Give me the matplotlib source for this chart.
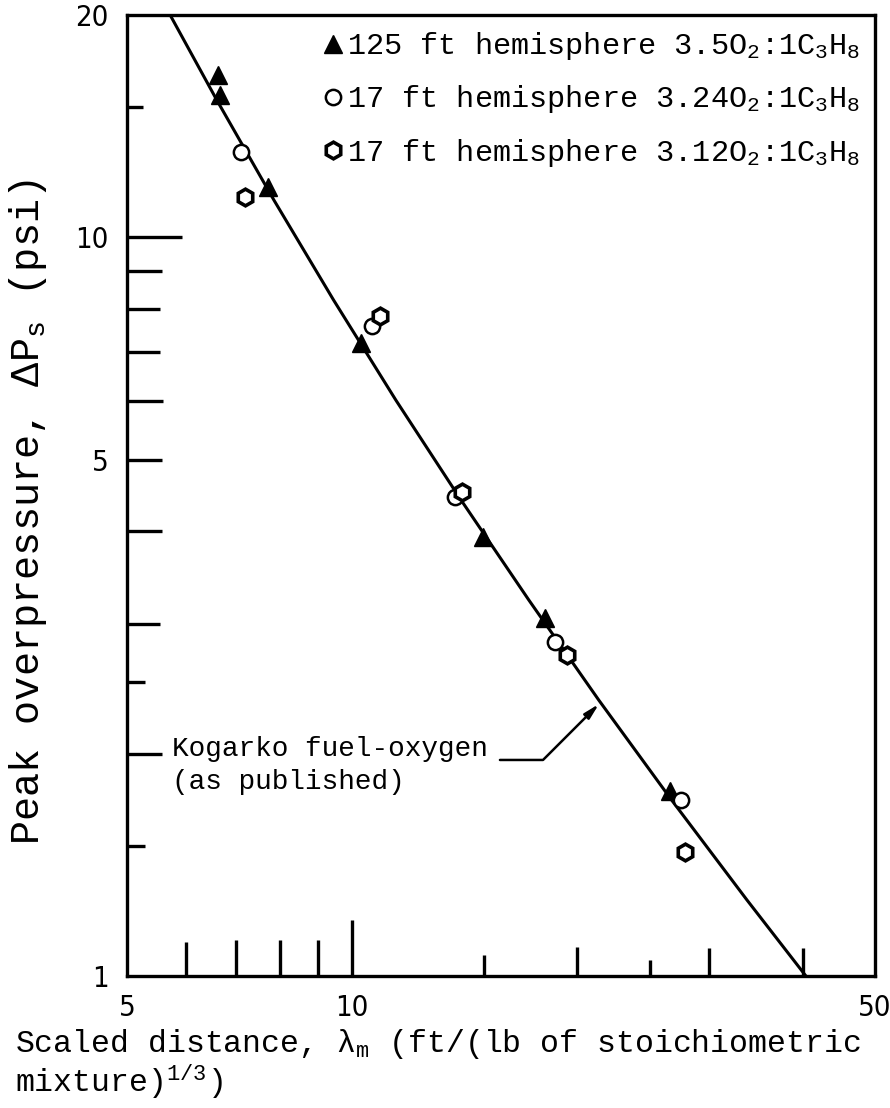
import numpy as np
import matplotlib.pyplot as plt
from matplotlib.ticker import NullLocator
from matplotlib.transforms import blended_transform_factory

plt.rcParams['font.family'] = ['Liberation Mono', 'DejaVu Sans Mono', 'DejaVu Sans']
plt.rcParams['mathtext.fontset'] = 'custom'
plt.rcParams['mathtext.rm'] = 'Liberation Mono'
plt.rcParams['mathtext.it'] = 'Liberation Mono'
plt.rcParams['mathtext.default'] = 'regular'

# 125 ft hemisphere 3.5 O2 : 1 C3H8  (filled triangles)
tri_x = [6.62, 6.65, 7.72, 10.27, 14.96, 18.1, 26.6]
tri_y = [16.6, 15.6, 11.7, 7.19, 3.93, 3.05, 1.78]

# 17 ft hemisphere 3.24 O2 : 1 C3H8  (open circles)
circ_x = [7.10, 10.63, 13.73, 18.67, 27.5]
circ_y = [13.05, 7.59, 4.45, 2.83, 1.73]

# 17 ft hemisphere 3.12 O2 : 1 C3H8  (open hexagons)
hex_x = [7.19, 10.90, 14.02, 19.37, 27.9]
hex_y = [11.34, 7.83, 4.52, 2.72, 1.47]

# Kogarko fuel-oxygen curve (as published)
kog_x = [5.71, 6.59, 7.86, 9.44, 11.44, 13.98, 17.22, 21.36, 26.73, 33.72, 40.42]
kog_y = [20.0, 15.35, 11.23, 8.23, 6.02, 4.41, 3.23, 2.364, 1.731, 1.267, 1.0]

x_labeled = [5, 10, 50]
y_labeled = [1, 5, 10, 20]
x_marks = [6, 7, 8, 9, 10, 15, 20, 25, 30, 40]
y_marks = [1.5, 2, 2.5, 3, 4, 5, 6, 7, 8, 9, 10, 15]

# tick mark lengths in pixels (style only)
x_mark_len = [34, 36, 36, 36, 56, 21, 29, 16, 28, 28]
y_mark_len = [18, 35, 18, 33, 35, 35, 36, 33, 33, 35, 55, 16]

fig = plt.figure(figsize=(8.9, 11.08), dpi=100)
ax = fig.add_axes([127 / 890, 1 - 976 / 1108, 748 / 890, 961 / 1108])
ax.set_xscale('log')
ax.set_yscale('log')
ax.set_xlim(5, 50)
ax.set_ylim(1, 20)

for s in ax.spines.values():
    s.set_linewidth(2.4)

ax.plot(kog_x, kog_y, color='black', lw=2.2, zorder=2)
ax.plot(tri_x, tri_y, ls='none', marker='^', ms=13, color='black', zorder=3,
        label=r'125 ft hemisphere 3.5O$_2$:1C$_3$H$_8$')
ax.plot(circ_x, circ_y, ls='none', marker='o', ms=11, mfc='white', mec='black',
        mew=1.8, zorder=3, label=r'17 ft hemisphere 3.24O$_2$:1C$_3$H$_8$')
ax.plot(hex_x, hex_y, ls='none', marker='h', ms=12, mfc='white', mec='black',
        mew=2.6, zorder=3, label=r'17 ft hemisphere 3.12O$_2$:1C$_3$H$_8$')

leg = ax.legend(loc='upper right', frameon=False, fontsize=21.8, handlelength=0.6,
                handletextpad=0.15, labelspacing=0.7, borderaxespad=0.3,
                borderpad=0.2)

# ticks: labels only from the library, marks drawn with individual lengths
ax.xaxis.set_minor_locator(NullLocator())
ax.yaxis.set_minor_locator(NullLocator())
ax.set_xticks(x_labeled)
ax.set_xticklabels([str(v) for v in x_labeled], family='DejaVu Sans',
                   fontstretch='condensed', fontsize=21)
ax.set_yticks(y_labeled)
ax.set_yticklabels([str(v) for v in y_labeled], family='DejaVu Sans',
                   fontstretch='condensed', fontsize=21)
ax.tick_params(axis='both', length=0)
ax.tick_params(axis='x', pad=13)
ax.tick_params(axis='y', pad=13)

tx = blended_transform_factory(ax.transData, ax.transAxes)
ty = blended_transform_factory(ax.transAxes, ax.transData)
for v, L in zip(x_marks, x_mark_len):
    ax.vlines(v, 0, L / 961, transform=tx, color='black', lw=2.4, clip_on=False)
for v, L in zip(y_marks, y_mark_len):
    ax.hlines(v, 0, L / 748, transform=ty, color='black', lw=2.4, clip_on=False)

ax.annotate('', xy=(21.38, 2.335), xytext=(15.76, 1.961),
            arrowprops=dict(arrowstyle='-|>,head_length=0.9,head_width=0.22',
                            color='black', lw=1.8, shrinkA=0, shrinkB=0,
                            connectionstyle='angle,angleA=0,angleB=45,rad=0'))
ax.text(5.74, 1.925, 'Kogarko fuel-oxygen\n(as published)', fontsize=20,
        ha='left', va='center', linespacing=1.35)

fig.text(28 / 890, 1 - 512 / 1108, r'Peak overpressure, $\Delta$P$_s$ (psi)',
         fontsize=29, rotation=90, ha='center', va='center')
fig.text(15 / 890, 1 - 1064 / 1108,
         'Scaled distance, $\\lambda_m$ (ft/(lb of stoichiometric\nmixture)$^{1/3}$)',
         fontsize=22.7, ha='left', va='center', linespacing=1.05)

fig.savefig('out.png', dpi=100)
